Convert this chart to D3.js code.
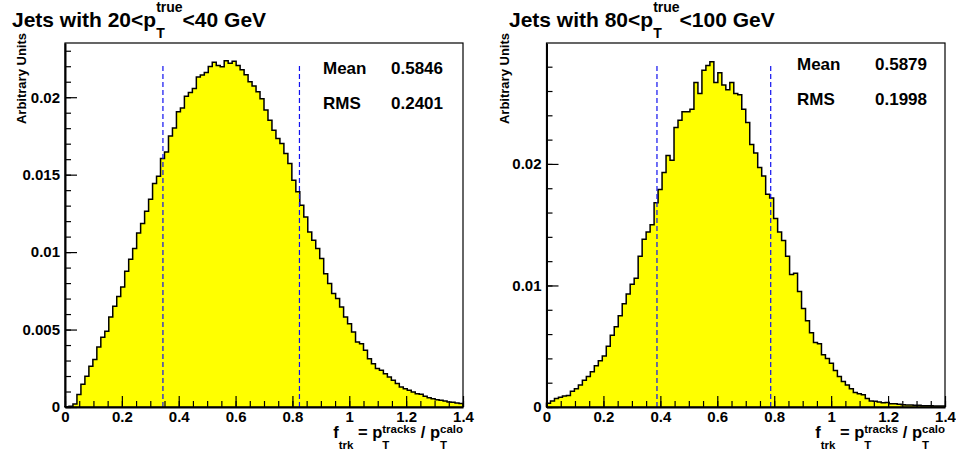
<!DOCTYPE html>
<html>
<head>
<meta charset="utf-8">
<script src="https://cdn.jsdelivr.net/npm/d3@7"></script>
<style>
  body { margin: 0; background: #fff; }
  svg { display: block; font-family: "Liberation Sans", Arial, Helvetica, sans-serif; font-weight: bold; }
  text { white-space: pre; }
</style>
</head>
<body>
<svg id="chart" width="956" height="455"></svg>
<script>
// histogram binning: 100 bins from 0 to 1.4
const xMin = 0, xMax = 1.4, nBins = 100;

// bin contents, jets 20-40 GeV
const lowPtValues = [
  0.00002, 0.00005, 0.0002, 0.0008, 0.00147, 0.00198, 0.00263, 0.00306, 0.00388, 0.0045,
  0.00489, 0.00581, 0.0065, 0.00713, 0.00775, 0.00877, 0.00954, 0.01023, 0.01124, 0.01184,
  0.01264, 0.01342, 0.01443, 0.0149, 0.01604, 0.01647, 0.01749, 0.01802, 0.01906, 0.01931,
  0.02007, 0.0203, 0.02056, 0.0213, 0.02143, 0.0216, 0.02198, 0.02225, 0.02205, 0.02196,
  0.02236, 0.0222, 0.02232, 0.02205, 0.02178, 0.02145, 0.021, 0.02072, 0.02035, 0.0199,
  0.01917, 0.01852, 0.01787, 0.01733, 0.01701, 0.01636, 0.01572, 0.01464, 0.01389, 0.01303,
  0.01227, 0.0113, 0.01077, 0.01023, 0.00958, 0.00861, 0.00797, 0.00732, 0.007, 0.00646,
  0.00581, 0.00538, 0.00484, 0.0042, 0.00409, 0.00366, 0.00312, 0.0028, 0.00248, 0.00237,
  0.00215, 0.00194, 0.00172, 0.00151, 0.00129, 0.00118, 0.00108, 0.00097, 0.00086, 0.00082,
  0.00069, 0.0006, 0.00054, 0.00047, 0.00043, 0.00039, 0.00032, 0.0003, 0.00026, 0.00022
];

// jets 80-100 GeV
const highPtValues = [
  0.0003, 0.0005, 0.0007, 0.0008, 0.0009, 0.00095, 0.0013, 0.0015, 0.0018, 0.0022,
  0.0025, 0.0029, 0.0034, 0.0038, 0.0042, 0.005, 0.0059, 0.0066, 0.0075, 0.0085,
  0.0093, 0.0101, 0.0106, 0.0124, 0.0138, 0.0144, 0.015, 0.0168, 0.0179, 0.0193,
  0.0207, 0.0203, 0.023, 0.0236, 0.0243, 0.0243, 0.0245, 0.0267, 0.0258, 0.0277,
  0.0281, 0.0284, 0.0267, 0.0275, 0.0265, 0.0261, 0.0267, 0.0258, 0.0257, 0.0245,
  0.0234, 0.0216, 0.0209, 0.0197, 0.019, 0.0175, 0.0172, 0.0155, 0.0144, 0.0137,
  0.0124, 0.0109, 0.011, 0.0095, 0.0081, 0.0071, 0.0061, 0.0053, 0.0052, 0.0043,
  0.004, 0.0036, 0.003, 0.0025, 0.0021, 0.0018, 0.0015, 0.0012, 0.0011, 0.001,
  0.0007, 0.0005, 0.00047, 0.00041, 0.00036, 0.00038, 0.00027, 0.00027, 0.00022, 0.00019,
  0.00016, 0.00016, 0.00014, 0.00014, 0.00011, 0.00011, 0.0001, 0.00008, 0.00008, 0.00008
];

const xTickValues = [0, 0.2, 0.4, 0.6, 0.8, 1, 1.2, 1.4];
const xTickLabels = ["0", "0.2", "0.4", "0.6", "0.8", "1", "1.2", "1.4"];
const lowPtYTicks = [0, 0.005, 0.01, 0.015, 0.02];
const lowPtYLabels = ["0", "0.005", "0.01", "0.015", "0.02"];
const highPtYTicks = [0, 0.01, 0.02];
const highPtYLabels = ["0", "0.01", "0.02"];

const lowPtMean = 0.5846, lowPtRms = 0.2401;
const highPtMean = 0.5879, highPtRms = 0.1998;
// y range of each frame and top of the mean +- rms markers
const lowPtYMax = 0.0235, highPtYMax = 0.02995;
const lowPtMarkTop = 0.0221, highPtMarkTop = 0.0283;

const svg = d3.select("#chart");
const font = '"Liberation Sans", Arial, Helvetica, sans-serif';
const sp = "\u00a0";

// text with stacked sub/superscripts, ROOT TLatex style
function richText(parent, x, y, parts, opts) {
  const g = parent.append("g");
  let cx = 0;
  parts.forEach(p => {
    if (p.text !== undefined) {
      const t = g.append("text").attr("x", cx).attr("y", 0)
        .attr("font-size", opts.size).text(p.text);
      cx += t.node().getComputedTextLength();
    } else {
      let w = 0;
      if (p.sup) {
        const t = g.append("text").attr("x", cx).attr("y", opts.supDy)
          .attr("font-size", opts.small).text(p.sup);
        w = Math.max(w, t.node().getComputedTextLength());
      }
      if (p.sub) {
        const t = g.append("text").attr("x", cx).attr("y", opts.subDy)
          .attr("font-size", opts.small).text(p.sub);
        w = Math.max(w, t.node().getComputedTextLength());
      }
      cx += w;
    }
  });
  const shift = opts.anchor === "end" ? -cx : 0;
  g.attr("transform", `translate(${x + shift},${y})`);
  return g;
}

function drawPanel(cfg) {
  const x = d3.scaleLinear().domain([xMin, xMax]).range([cfg.left, cfg.right]);
  const y = d3.scaleLinear().domain([0, cfg.yMax]).range([cfg.bottom, cfg.top]);
  const g = svg.append("g");
  const binW = (xMax - xMin) / nBins;

  // step points
  const pts = [[xMin, 0]];
  cfg.values.forEach((v, i) => {
    pts.push([xMin + i * binW, v]);
    pts.push([xMin + (i + 1) * binW, v]);
  });
  pts.push([xMax, 0]);

  g.append("path")
    .attr("d", d3.area().x(d => x(d[0])).y0(y(0)).y1(d => y(d[1]))(pts))
    .attr("fill", "#ffff00");
  g.append("path")
    .attr("d", d3.line().x(d => x(d[0])).y(d => y(d[1]))(pts))
    .attr("fill", "none").attr("stroke", "#000").attr("stroke-width", 1.5);

  // mean +- rms markers
  [cfg.mean - cfg.rms, cfg.mean + cfg.rms].forEach(v => {
    g.append("line")
      .attr("x1", x(v)).attr("x2", x(v))
      .attr("y1", y(0)).attr("y2", y(cfg.markTop))
      .attr("stroke", "#1010f0").attr("stroke-width", 1.2)
      .attr("stroke-dasharray", "5,3");
  });

  // frame
  g.append("rect")
    .attr("x", cfg.left).attr("y", cfg.top)
    .attr("width", cfg.right - cfg.left).attr("height", cfg.bottom - cfg.top)
    .attr("fill", "none").attr("stroke", "#000").attr("stroke-width", 1.2);

  // minor ticks
  const xMinor = d3.range(0, 29).map(i => i * 0.05).filter(v => v <= xMax + 1e-9);
  g.append("g").attr("transform", `translate(0,${cfg.bottom})`)
    .call(d3.axisBottom(x).tickValues(xMinor).tickSize(-6).tickFormat("").tickSizeOuter(0))
    .call(a => a.select(".domain").remove());
  const yMinor = d3.range(0, Math.floor(cfg.yMax / cfg.yMinorStep + 1e-6) + 1).map(i => i * cfg.yMinorStep);
  g.append("g").attr("transform", `translate(${cfg.left},0)`)
    .call(d3.axisLeft(y).tickValues(yMinor).tickSize(-6).tickFormat("").tickSizeOuter(0))
    .call(a => a.select(".domain").remove());

  // major ticks + labels
  g.append("g").attr("transform", `translate(0,${cfg.bottom})`)
    .call(d3.axisBottom(x).tickValues(xTickValues).tickSize(-11).tickPadding(4).tickSizeOuter(0)
      .tickFormat((d, i) => xTickLabels[i]))
    .call(a => a.select(".domain").attr("stroke-width", 2))
    .call(a => a.selectAll("text").attr("font-family", font).attr("font-weight", "bold")
      .attr("font-size", 15).attr("fill", "#000"));
  g.append("g").attr("transform", `translate(${cfg.left},0)`)
    .call(d3.axisLeft(y).tickValues(cfg.yTicks).tickSize(-12).tickPadding(5).tickSizeOuter(0)
      .tickFormat((d, i) => cfg.yLabels[i]))
    .call(a => a.select(".domain").attr("stroke-width", 2))
    .call(a => a.selectAll("text").attr("font-family", font).attr("font-weight", "bold")
      .attr("font-size", 15).attr("fill", "#000"));
  g.selectAll(".tick line").attr("stroke", "#000").attr("stroke-width", 1.2);

  // y title
  g.append("text")
    .attr("transform", `translate(${cfg.yTitleX},${cfg.top - 10}) rotate(-90)`)
    .attr("text-anchor", "end").attr("font-size", 13).text("Arbitrary Units");

  // x title
  richText(g, cfg.right, 438, [
    { text: "f" }, { sub: "trk" }, { text: sp + "=" + sp + "p" }, { sub: "T", sup: "tracks" },
    { text: sp + "/" + sp + "p" }, { sub: "T", sup: "calo" }
  ], { size: 16.5, small: 11.5, supDy: -5, subDy: 11, anchor: "end" });

  // panel title
  richText(g, cfg.titleX, 27, [
    { text: cfg.titleA }, { sub: "T", sup: "true" }, { text: cfg.titleB }
  ], { size: 21, small: 14, supDy: -15, subDy: 11, anchor: "start" });

  // stats
  const statRows = [["Mean", cfg.mean.toFixed(4)], ["RMS", cfg.rms.toFixed(4)]];
  statRows.forEach((r, i) => {
    g.append("text").attr("x", cfg.statX).attr("y", cfg.statY[i])
      .attr("font-size", 17).text(r[0]);
    g.append("text").attr("x", cfg.statValX).attr("y", cfg.statY[i])
      .attr("font-size", 17).attr("text-anchor", "end").text(r[1]);
  });
}

drawPanel({
  left: 65, right: 463, top: 43, bottom: 407,
  values: lowPtValues, yMax: lowPtYMax, yTicks: lowPtYTicks, yLabels: lowPtYLabels,
  yMinorStep: 0.001, mean: lowPtMean, rms: lowPtRms, markTop: lowPtMarkTop,
  yTitleX: 26, titleX: 12, titleA: "Jets with 20<p", titleB: "<40 GeV",
  statX: 323, statValX: 443, statY: [74, 109]
});
drawPanel({
  left: 546.5, right: 945, top: 43, bottom: 407,
  values: highPtValues, yMax: highPtYMax, yTicks: highPtYTicks, yLabels: highPtYLabels,
  yMinorStep: 0.002, mean: highPtMean, rms: highPtRms, markTop: highPtMarkTop,
  yTitleX: 509, titleX: 509, titleA: "Jets with 80<p", titleB: "<100 GeV",
  statX: 797, statValX: 927, statY: [70, 105]
});
</script>
</body>
</html>
